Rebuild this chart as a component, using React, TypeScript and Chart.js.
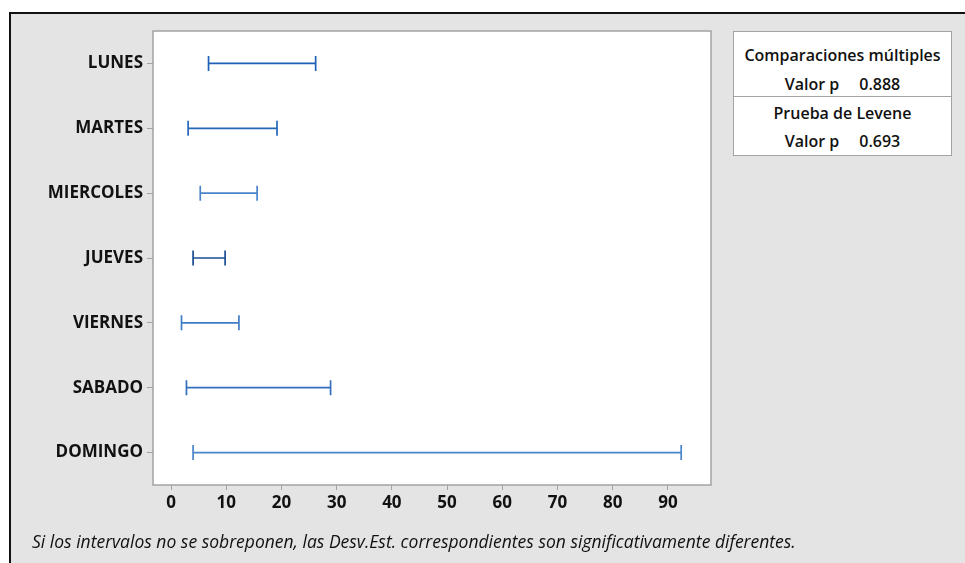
import React, { useEffect, useRef } from 'react';
import { Chart, registerables } from 'chart.js';

Chart.register(...registerables);

// Intervals for the standard deviation of each weekday
const days = ['LUNES', 'MARTES', 'MIERCOLES', 'JUEVES', 'VIERNES', 'SABADO', 'DOMINGO'];
const lowerBounds = [6.8, 3.1, 5.3, 4.0, 1.9, 2.8, 4.0];
const upperBounds = [26.2, 19.2, 15.6, 9.8, 12.3, 28.9, 92.4];
const intervalColors = ['#1d62b6', '#2466b8', '#4a84c9', '#1a4d92', '#3f7cc6', '#326fbe', '#4a84c9'];
const xTickValues = [0, 10, 20, 30, 40, 50, 60, 70, 80, 90];

// Test summary
const multipleComparisonsLabel = 'Comparaciones múltiples';
const leveneLabel = 'Prueba de Levene';
const pValueLabel = 'Valor p';
const multipleComparisonsP = '0.888';
const leveneP = '0.693';
const footnote =
  'Si los intervalos no se sobreponen, las Desv.Est. correspondientes son significativamente diferentes.';

const FONT = '"Open Sans", "Noto Sans", sans-serif';
const AXIS_GRAY = '#a3a3a3';

// White plot panel with a thin gray frame
const plotPanel = {
  id: 'plotPanel',
  beforeDraw(chart: any) {
    const { ctx, chartArea: a } = chart;
    ctx.save();
    ctx.fillStyle = '#ffffff';
    ctx.fillRect(a.left, a.top, a.right - a.left, a.bottom - a.top);
    ctx.restore();
  },
  afterDraw(chart: any) {
    const { ctx, chartArea: a } = chart;
    ctx.save();
    ctx.strokeStyle = AXIS_GRAY;
    ctx.lineWidth = 1.5;
    ctx.strokeRect(a.left, a.top, a.right - a.left, a.bottom - a.top);
    ctx.restore();
  },
};

export default function App() {
  const canvasRef = useRef<HTMLCanvasElement | null>(null);

  useEffect(() => {
    const canvas = canvasRef.current;
    if (!canvas) return;

    const datasets = days.map((day, i) => ({
      type: 'line' as const,
      label: day,
      data: [
        { x: lowerBounds[i], y: day },
        { x: upperBounds[i], y: day },
      ],
      borderColor: intervalColors[i],
      borderWidth: 1.7,
      pointStyle: 'line' as const,
      rotation: 90,
      pointRadius: 7.5,
      pointHoverRadius: 7.5,
      pointBorderWidth: 1.7,
      pointBorderColor: intervalColors[i],
      fill: false,
      tension: 0,
    }));

    const chart = new Chart(canvas, {
      type: 'line',
      data: { labels: days, datasets },
      plugins: [plotPanel],
      options: {
        responsive: false,
        animation: false,
        devicePixelRatio: 1,
        layout: { padding: { left: 0, top: 31, right: 254, bottom: 38 } },
        plugins: {
          legend: { display: false },
          tooltip: { enabled: false },
        },
        scales: {
          x: {
            type: 'linear',
            min: -3.26,
            max: 97.8,
            afterFit(scale: any) {
              scale.height = 40;
            },
            afterBuildTicks(scale: any) {
              scale.ticks = xTickValues.map((v) => ({ value: v }));
            },
            border: { display: false },
            grid: {
              drawOnChartArea: false,
              drawTicks: true,
              tickLength: 5,
              color: AXIS_GRAY,
              lineWidth: 1,
            },
            ticks: {
              padding: 3,
              color: '#111111',
              font: { family: FONT, size: 17, weight: 700 },
              maxRotation: 0,
            },
          },
          y: {
            type: 'category',
            labels: days,
            offset: true,
            afterFit(scale: any) {
              scale.width = 153;
            },
            border: { display: false },
            grid: {
              offset: false,
              drawOnChartArea: false,
              drawTicks: true,
              tickLength: 6,
              color: AXIS_GRAY,
              lineWidth: 1,
            },
            ticks: {
              padding: 4,
              color: '#111111',
              font: { family: FONT, size: 17, weight: 700 },
            },
          },
        },
      },
    } as any);

    return () => chart.destroy();
  }, []);

  const statLine: React.CSSProperties = {
    position: 'absolute',
    left: 0,
    width: '100%',
    textAlign: 'center',
    fontFamily: FONT,
    fontWeight: 600,
    fontSize: 16,
    color: '#111',
    lineHeight: '20px',
    whiteSpace: 'nowrap',
  };

  return (
    <div
      style={{
        position: 'absolute',
        left: 0,
        top: 0,
        width: 965,
        height: 563,
        overflow: 'hidden',
        background: '#ffffff',
      }}
    >
      <div
        style={{
          position: 'absolute',
          left: 9,
          top: 12,
          width: 956,
          height: 560,
          boxSizing: 'border-box',
          background: '#e4e4e4',
          borderTop: '2px solid #111',
          borderLeft: '2px solid #111',
        }}
      />
      <canvas
        ref={canvasRef}
        width={965}
        height={563}
        style={{ position: 'absolute', left: 0, top: 0, width: 965, height: 563 }}
      />
      <div
        style={{
          position: 'absolute',
          left: 733,
          top: 31,
          width: 219,
          height: 125,
          boxSizing: 'border-box',
          background: '#ffffff',
          border: `1px solid ${AXIS_GRAY}`,
        }}
      >
        <div style={{ ...statLine, top: 13 }}>{multipleComparisonsLabel}</div>
        <div style={{ ...statLine, top: 42 }}>
          <span>{pValueLabel}</span>
          <span style={{ marginLeft: 20 }}>{multipleComparisonsP}</span>
        </div>
        <div
          style={{
            position: 'absolute',
            left: 0,
            right: -1,
            top: 64,
            height: 1,
            background: AXIS_GRAY,
          }}
        />
        <div style={{ ...statLine, top: 71 }}>{leveneLabel}</div>
        <div style={{ ...statLine, top: 99 }}>
          <span>{pValueLabel}</span>
          <span style={{ marginLeft: 20 }}>{leveneP}</span>
        </div>
      </div>
      <div
        style={{
          position: 'absolute',
          left: 32,
          top: 530,
          fontFamily: FONT,
          fontStyle: 'italic',
          fontSize: 17.5,
          color: '#111',
          lineHeight: '22px',
          whiteSpace: 'nowrap',
        }}
      >
        {footnote}
      </div>
    </div>
  );
}
